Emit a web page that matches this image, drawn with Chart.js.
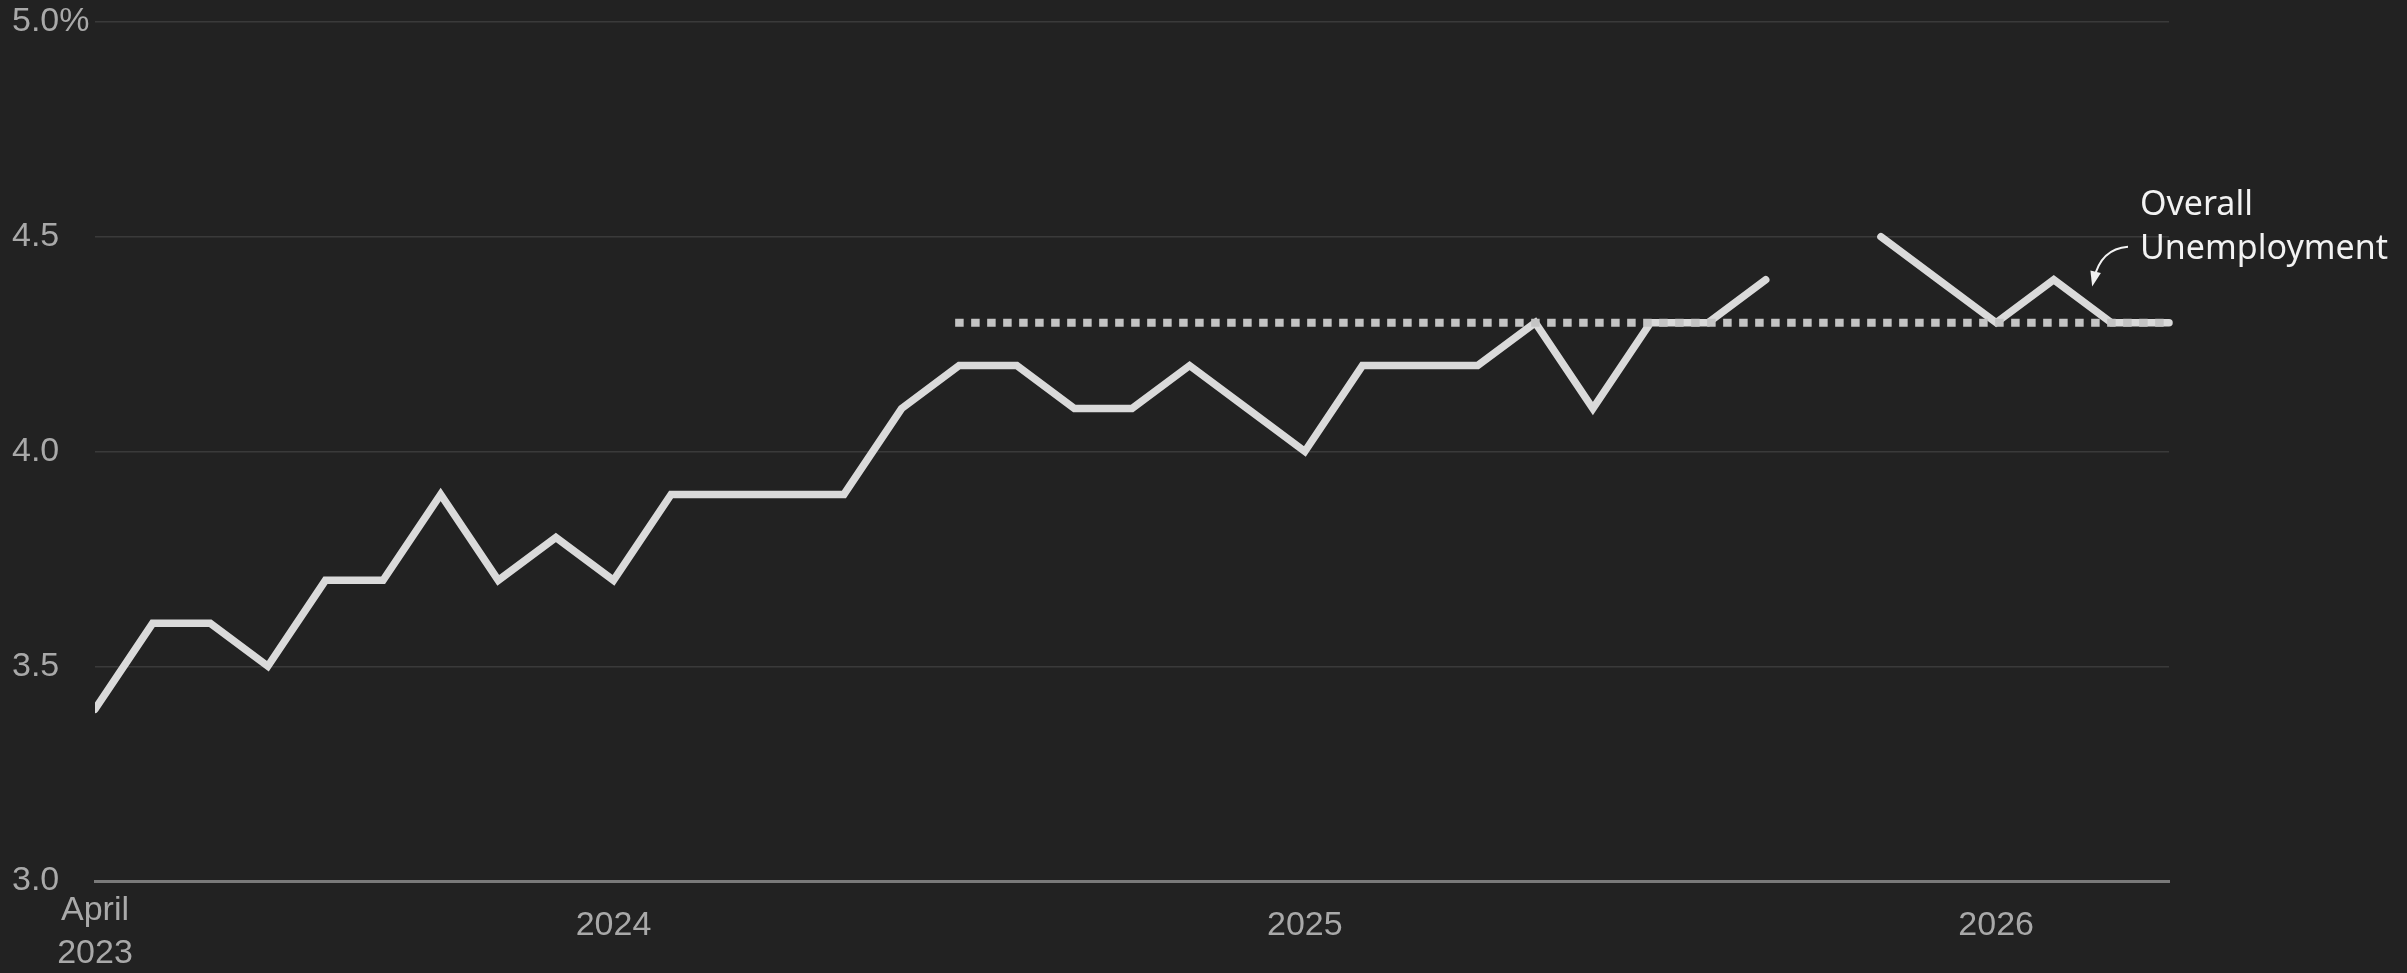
<!DOCTYPE html>
<html>
<head>
<meta charset="utf-8">
<script src="https://cdn.jsdelivr.net/npm/chart.js@4.4.1/dist/chart.umd.min.js"></script>
<style>
  html, body { margin: 0; padding: 0; background: #222222; }
  #wrap { width: 2407px; height: 973px; }
</style>
</head>
<body>
<div id="wrap"><canvas id="chart" width="2407" height="973"></canvas></div>
<script>
// monthly categories, April 2023 .. April 2026
const months = [
  'Apr 2023', 'May 2023', 'Jun 2023', 'Jul 2023', 'Aug 2023', 'Sep 2023', 'Oct 2023', 'Nov 2023', 'Dec 2023',
  'Jan 2024', 'Feb 2024', 'Mar 2024', 'Apr 2024', 'May 2024', 'Jun 2024', 'Jul 2024', 'Aug 2024', 'Sep 2024',
  'Oct 2024', 'Nov 2024', 'Dec 2024',
  'Jan 2025', 'Feb 2025', 'Mar 2025', 'Apr 2025', 'May 2025', 'Jun 2025', 'Jul 2025', 'Aug 2025', 'Sep 2025',
  'Oct 2025', 'Nov 2025', 'Dec 2025',
  'Jan 2026', 'Feb 2026', 'Mar 2026', 'Apr 2026'
];

// unemployment rate, % (Oct 2025 missing)
const unemployment = [
  3.4, 3.6, 3.6, 3.5, 3.7, 3.7, 3.9, 3.7, 3.8,
  3.7, 3.9, 3.9, 3.9, 3.9, 4.1, 4.2, 4.2, 4.1, 4.1, 4.2, 4.1,
  4.0, 4.2, 4.2, 4.2, 4.3, 4.1, 4.3, 4.3, 4.4, null, 4.5, 4.4,
  4.3, 4.4, 4.3, 4.3
];

// dotted reference level
const refStart = 'Jul 2024';
const refEnd = 'Apr 2026';
const refLevel = 4.3;

// x tick labels shown
const tickMonths = ['Apr 2023', 'Jan 2024', 'Jan 2025', 'Jan 2026'];
const tickTexts = [['April', '2023'], '2024', '2025', '2026'];

const annotationLines = ['Overall', 'Unemployment'];

const tickColor = '#a9a9a9';
const tickFamily = "'Liberation Sans', Arial, sans-serif";

const annotationPlugin = {
  id: 'annotation',
  afterDatasetsDraw(chart) {
    const ctx = chart.ctx;
    const area = chart.chartArea;
    const y45 = chart.scales.y.getPixelForValue(4.5);
    const tx = area.right - 29;
    ctx.save();
    ctx.fillStyle = '#f2f2f2';
    ctx.font = "34px 'Noto Sans', sans-serif";
    ctx.textAlign = 'left';
    ctx.textBaseline = 'middle';
    ctx.fillText(annotationLines[0], tx, y45 - 31);
    ctx.fillText(annotationLines[1], tx, y45 + 13);

    // curved arrow
    const sx = area.right - 41, sy = y45 + 10;
    const ex = area.right - 75, ey = y45 + 42;
    const cx = area.right - 68, cy = y45 + 12;
    ctx.strokeStyle = '#f2f2f2';
    ctx.lineWidth = 2;
    ctx.beginPath();
    ctx.moveTo(sx, sy);
    ctx.quadraticCurveTo(cx, cy, ex, ey);
    ctx.stroke();
    const ang = Math.atan2(ey - cy, ex - cx);
    ctx.beginPath();
    ctx.moveTo(ex + Math.cos(ang) * 8, ey + Math.sin(ang) * 8);
    ctx.lineTo(ex + Math.cos(ang + 2.5) * 9, ey + Math.sin(ang + 2.5) * 9);
    ctx.lineTo(ex + Math.cos(ang - 2.5) * 9, ey + Math.sin(ang - 2.5) * 9);
    ctx.closePath();
    ctx.fillStyle = '#f2f2f2';
    ctx.fill();
    ctx.restore();
  }
};

new Chart(document.getElementById('chart'), {
  type: 'line',
  data: {
    labels: months,
    datasets: [
      {
        label: 'Reference',
        data: [{ x: refStart, y: refLevel }, { x: refEnd, y: refLevel }],
        borderColor: '#c4c4c4',
        borderWidth: 8,
        borderDash: [0.5, 15.5],
        borderCapStyle: 'square',
        pointRadius: 0,
        order: 0
      },
      {
        label: 'Overall Unemployment',
        data: unemployment,
        borderColor: '#dadada',
        borderWidth: 7.5,
        borderCapStyle: 'round',
        borderJoinStyle: 'miter',
        pointRadius: 0,
        tension: 0,
        spanGaps: false,
        clip: { left: 0, top: false, right: false, bottom: false },
        order: 1
      }
    ]
  },
  options: {
    responsive: false,
    devicePixelRatio: 1,
    animation: false,
    layout: { padding: { left: 12, right: 238, top: 22, bottom: 0 } },
    plugins: {
      legend: { display: false },
      tooltip: { enabled: false }
    },
    scales: {
      x: {
        type: 'category',
        offset: false,
        grid: { display: false, drawTicks: false },
        border: { display: true, color: '#7a7a7a', width: 3 },
        ticks: {
          autoSkip: false,
          maxRotation: 0,
          minRotation: 0,
          padding: 30,
          crossAlign: 'center',
          color: tickColor,
          font: (c) => c.index === 0
            ? { family: tickFamily, size: 34, lineHeight: '43px' }
            : { family: tickFamily, size: 34, lineHeight: '56px' },
          callback: function (value, index) {
            const k = tickMonths.indexOf(months[index]);
            return k >= 0 ? tickTexts[k] : '';
          }
        },
        afterFit: (scale) => { scale.height = 92; }
      },
      y: {
        min: 3,
        max: 5,
        grid: { color: '#3a3a3a', lineWidth: 1.5, drawTicks: false },
        border: { display: false },
        ticks: {
          stepSize: 0.5,
          crossAlign: 'far',
          padding: 0,
          color: tickColor,
          font: { family: tickFamily, size: 34 },
          callback: (v) => v === 5 ? '5.0%' : v.toFixed(1)
        },
        afterFit: (scale) => { scale.width = 83; }
      }
    }
  },
  plugins: [annotationPlugin]
});
</script>
</body>
</html>
